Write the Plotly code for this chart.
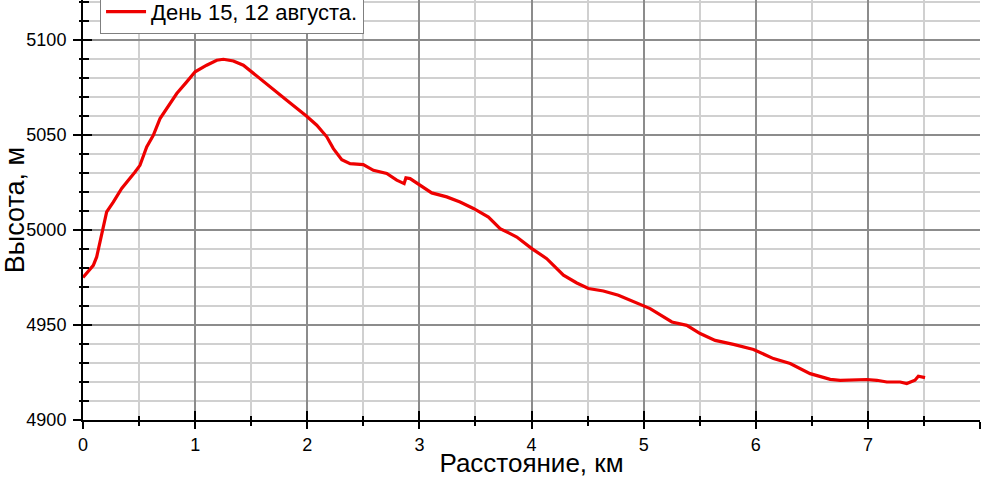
import plotly.graph_objects as go

distance_km = [0.0, 0.092, 0.122, 0.211, 0.27, 0.345, 0.464, 0.508, 0.568, 0.627, 0.687, 0.747,
               0.836, 0.925, 1.0, 1.103, 1.193, 1.252, 1.341, 1.43, 1.505, 1.639, 1.817, 1.995,
               2.085, 2.174, 2.233, 2.308, 2.382, 2.5, 2.59, 2.709, 2.798, 2.864, 2.88, 2.917,
               3.006, 3.11, 3.244, 3.363, 3.482, 3.616, 3.72, 3.869, 4.003, 4.136, 4.285, 4.404,
               4.508, 4.641, 4.775, 4.88, 5.058, 5.252, 5.385, 5.504, 5.638, 5.801, 5.98, 6.158,
               6.307, 6.485, 6.664, 6.753, 6.991, 7.08, 7.169, 7.288, 7.347, 7.42, 7.45, 7.51]
altitude_m = [4975.0, 4981.4, 4985.8, 5009.5, 5014.7, 5021.8, 5030.5, 5034.0, 5043.7, 5049.8, 5058.6, 5063.9,
              5071.8, 5077.9, 5083.2, 5086.7, 5089.3, 5089.8, 5088.9, 5086.7, 5083.2, 5077.1, 5068.3, 5059.8,
              5055.1, 5049.0, 5042.8, 5037.0, 5034.9, 5034.4, 5031.4, 5029.7, 5026.2, 5024.4, 5027.4, 5027.0,
              5023.5, 5019.5, 5017.4, 5014.7, 5011.3, 5006.8, 5000.7, 4996.3, 4990.2, 4984.9, 4976.2, 4972.1,
              4969.2, 4967.9, 4965.6, 4963.0, 4958.6, 4951.6, 4949.8, 4945.5, 4941.9, 4939.8, 4937.1, 4932.3,
              4929.7, 4924.4, 4921.4, 4920.9, 4921.3, 4920.9, 4920.0, 4920.0, 4919.2, 4920.9, 4923.0, 4922.3]
series_name = "День 15, 12 августа."
x_title = "Расстояние, км"
y_title = "Высота, м"

FONT = "Liberation Sans, Arial, sans-serif"

fig = go.Figure()
fig.add_trace(go.Scatter(x=distance_km, y=altitude_m, mode="lines", name=series_name,
                         line=dict(color="#ee0000", width=3.2)))
# invisible trace to activate the overlay axes
fig.add_trace(go.Scatter(x=[distance_km[0]], y=[altitude_m[0]], mode="lines", xaxis="x2", yaxis="y2",
                         showlegend=False, hoverinfo="skip", line=dict(color="rgba(0,0,0,0)")))

fig.update_layout(
    width=985, height=478,
    margin=dict(l=83, r=5, t=0, b=58, autoexpand=False),
    paper_bgcolor="white", plot_bgcolor="white",
    font=dict(family=FONT, color="black", size=18),
    showlegend=True,
    legend=dict(x=0.019, y=1.024, xanchor="left", yanchor="top",
                bgcolor="white", bordercolor="#7f7f7f", borderwidth=1,
                font=dict(size=22, family=FONT), itemwidth=40,
                tracegroupgap=0),
    xaxis=dict(range=[0, 8], dtick=1, tick0=0, showline=True, linecolor="black", linewidth=2,
               ticks="outside", ticklen=7, tickwidth=1.5, tickcolor="black", automargin=True,
               showgrid=True, gridcolor="#8c8c8c", gridwidth=1.5, zeroline=False,
               minor=dict(dtick=0.5, showgrid=True, gridcolor="#d0d0d0", gridwidth=1.5,
                          ticks="outside", ticklen=4, tickcolor="black", tickwidth=1.5),
               tickfont=dict(size=18),
               title=dict(text=x_title, font=dict(size=26), standoff=3)),
    yaxis=dict(range=[4900, 5121], dtick=50, tick0=4900, showline=True, linecolor="black", linewidth=2,
               ticks="outside", ticklen=8, tickwidth=1.5, tickcolor="black", automargin=False,
               showgrid=True, gridcolor="#8c8c8c", gridwidth=1.5, zeroline=False,
               minor=dict(dtick=10, showgrid=True, gridcolor="#d0d0d0", gridwidth=1.5,
                          ticks="outside", ticklen=2, tickcolor="black", tickwidth=1.5),
               tickfont=dict(size=18), ticklabelstandoff=3,
               title=dict(text=y_title, font=dict(size=27), standoff=2)),
    xaxis2=dict(overlaying="x", matches="x", side="bottom", showgrid=False, zeroline=False,
                showticklabels=False, ticks="inside", ticklen=9, tickwidth=1.5, tickcolor="black",
                dtick=1, tick0=0, automargin=False,
                minor=dict(dtick=0.5, ticks="inside", ticklen=4, tickcolor="black", tickwidth=1.5, showgrid=False)),
    yaxis2=dict(overlaying="y", matches="y", side="left", showgrid=False, zeroline=False,
                showticklabels=False, ticks="inside", ticklen=9, tickwidth=1.5, tickcolor="black",
                dtick=50, tick0=4900, automargin=False,
                minor=dict(dtick=10, ticks="inside", ticklen=6, tickcolor="black", tickwidth=1.5, showgrid=False)),
)

fig.write_html("out.html", config={"displayModeBar": False},
               post_script="document.body.style.margin='0';")
